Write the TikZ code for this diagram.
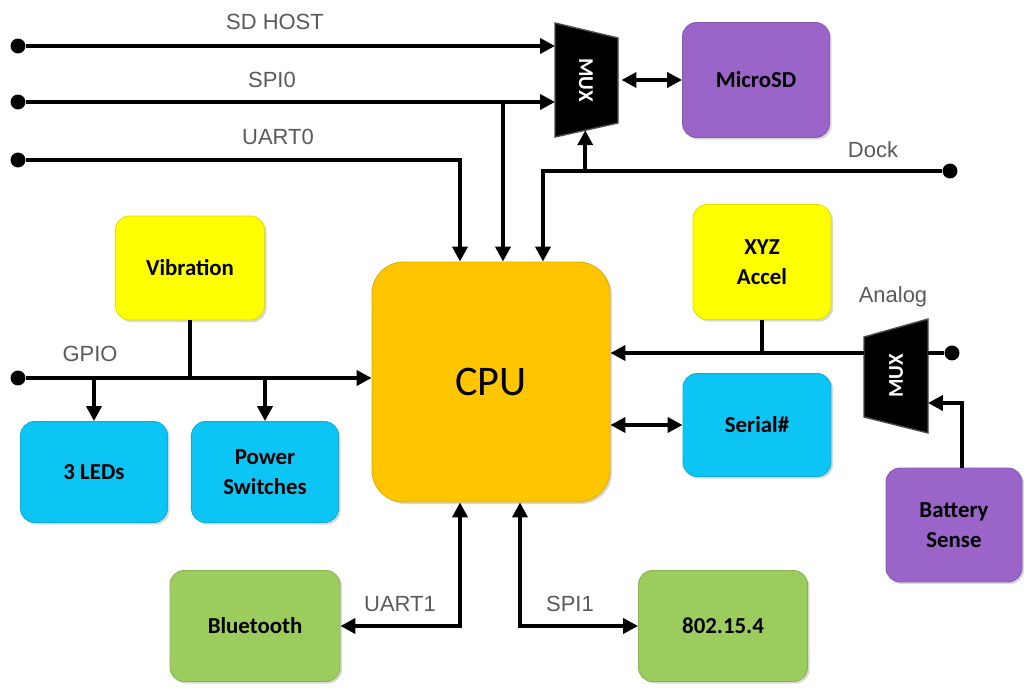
\documentclass[tikz,border=0pt]{standalone}
\usepackage{fontspec}
\setmainfont{Carlito}
\newfontfamily\labelfont{Liberation Sans}
\usetikzlibrary{positioning,arrows.meta,calc,shadows}
\definecolor{cPurple}{HTML}{9B64C8}
\definecolor{cYellow}{HTML}{FFFF00}
\definecolor{cGold}{HTML}{FFC600}
\definecolor{cCyan}{HTML}{0CC5F5}
\definecolor{cGreen}{HTML}{9CCB5E}
\definecolor{cLabel}{HTML}{5A5A5A}

\begin{document}
\begin{tikzpicture}[x=0.02cm,y=-0.02cm,
    blk/.style={draw=#1!88!black,fill=#1,line width=0.5pt,rounded corners=8pt,
      align=center,font=\bfseries\fontsize{13}{17}\selectfont,
      drop shadow={shadow xshift=1.2pt,shadow yshift=-1.2pt,opacity=0.3}},
    bus/.style={line width=2.2pt,-{Triangle[length=8.5pt,width=8.5pt]}},
    dbus/.style={line width=2.2pt,{Triangle[length=8.5pt,width=8.5pt]}-{Triangle[length=8.5pt,width=8.5pt]}},
    wire/.style={line width=2.2pt},
    dot/.style={circle,fill,inner sep=0pt,minimum size=8.5pt},
    sig/.style={text=cLabel,font=\labelfont\fontsize{12.5}{14}\selectfont},
    muxbody/.style={fill=black,draw=gray!60!black,line width=0.8pt},
    muxtxt/.style={text=white,font=\bfseries\fontsize{12}{14}\selectfont}]
  \useasboundingbox (0,0) rectangle (1024,688);
  \fill[white] (0,0) rectangle (1024,688);

  % blocks
  \node[blk=cGold,rounded corners=18pt,minimum width=4.76cm,minimum height=4.8cm,
    font=\fontsize{24}{28}\selectfont] (cpu) at (491,382) {CPU};
  \node[blk=cPurple,minimum width=2.94cm,minimum height=2.3cm] (microsd) at (756,80) {MicroSD};
  \node[blk=cYellow,minimum width=2.98cm,minimum height=2.08cm] (vib) at (190,268) {Vibration};
  \node[blk=cYellow,minimum width=2.76cm,minimum height=2.3cm] (xyz) at (762,262) {XYZ\\Accel};
  \node[blk=cCyan,minimum width=2.94cm,minimum height=2.02cm] (leds) at (94,472) {3 LEDs};
  \node[blk=cCyan,minimum width=2.94cm,minimum height=2.02cm] (pwr) at (265,472) {Power\\Switches};
  \node[blk=cCyan,minimum width=2.96cm,minimum height=2.06cm] (serial) at (757,425) {Serial\#};
  \node[blk=cPurple,minimum width=2.72cm,minimum height=2.28cm] (batt) at (954,525) {Battery\\Sense};
  \node[blk=cGreen,minimum width=3.4cm,minimum height=2.22cm] (bt) at (255,626) {Bluetooth};
  \node[blk=cGreen,minimum width=3.38cm,minimum height=2.22cm] (wpan) at (723,626) {802.15.4};

  % multiplexers
  \draw[muxbody] (555,23) coordinate (muxsdNW) -- (618,38) -- (618,123) coordinate (muxsdSE)
    -- (555,137) coordinate (muxsdSW) -- cycle;
  \node[muxtxt,rotate=-90] (muxsd) at (586,80) {MUX};
  \coordinate (muxsdE) at (618,80);
  \coordinate (muxsdBot) at ($(muxsdSW)!0.48!(muxsdSE)$);
  \draw[muxbody] (864,337) coordinate (muxanNW) -- (928,319) coordinate (muxanNE)
    -- (928,433) -- (864,417) -- cycle;
  \node[muxtxt,rotate=90] (muxan) at (896,376) {MUX};
  \coordinate (muxanBatt) at (928,403);

  % bus ends
  \node[dot] (sdhostEnd) at (18,46) {};
  \node[dot] (spi0End) at (18,102) {};
  \node[dot] (uart0End) at (18,160) {};
  \node[dot] (gpioEnd) at (18,378) {};
  \node[dot] (dockEnd) at (950,171) {};
  \node[dot] (analogEnd) at (952,353) {};

  % top buses
  \draw[bus] (sdhostEnd) -- (sdhostEnd -| muxsdNW);
  \draw[bus] (spi0End) -- (spi0End -| muxsdNW);
  \coordinate (spi0Tap) at ([xshift=0.24cm]cpu.north |- spi0End);
  \draw[bus] (spi0Tap) -- ([xshift=0.24cm]cpu.north);
  \draw[bus] (uart0End) -| ([xshift=-0.62cm]cpu.north);
  \draw[bus] (dockEnd) -| ([xshift=1.04cm]cpu.north);
  \draw[bus] (muxsdBot |- dockEnd) -- (muxsdBot);
  \draw[dbus] ([xshift=2pt]muxsdE) -- (microsd.west);

  % gpio
  \draw[bus] (gpioEnd) -- (gpioEnd -| cpu.west);
  \draw[wire] (vib.south) -- (vib.south |- gpioEnd);
  \draw[bus] (leds.north |- gpioEnd) -- (leds.north);
  \draw[bus] (pwr.north |- gpioEnd) -- (pwr.north);

  % analog
  \draw[wire] (analogEnd) -- (analogEnd -| muxanNE);
  \draw[bus] (analogEnd -| muxanNW) -- (analogEnd -| cpu.east);
  \draw[wire] (xyz.south) -- (xyz.south |- analogEnd);
  \draw[bus] ([xshift=0.16cm]batt.north) |- (muxanBatt);
  \draw[dbus] (cpu.east |- serial) -- (serial.west);

  % bottom buses
  \draw[dbus] ([xshift=-0.62cm]cpu.south) |- (bt.east);
  \draw[dbus] ([xshift=0.58cm]cpu.south) |- (wpan.west);

  % signal names
  \node[sig] (sdhostLbl) at (275,22) {SD HOST};
  \node[sig] (spi0Lbl) at (272,80) {SPI0};
  \node[sig] (uart0Lbl) at (278,137) {UART0};
  \node[sig] (dockLbl) at (873,150) {Dock};
  \node[sig] (gpioLbl) at (90,354) {GPIO};
  \node[sig] (analogLbl) at (893,297) {Analog};
  \node[sig] (uart1Lbl) at (400,604) {UART1};
  \node[sig] (spi1Lbl) at (570,604) {SPI1};
\end{tikzpicture}
\end{document}
